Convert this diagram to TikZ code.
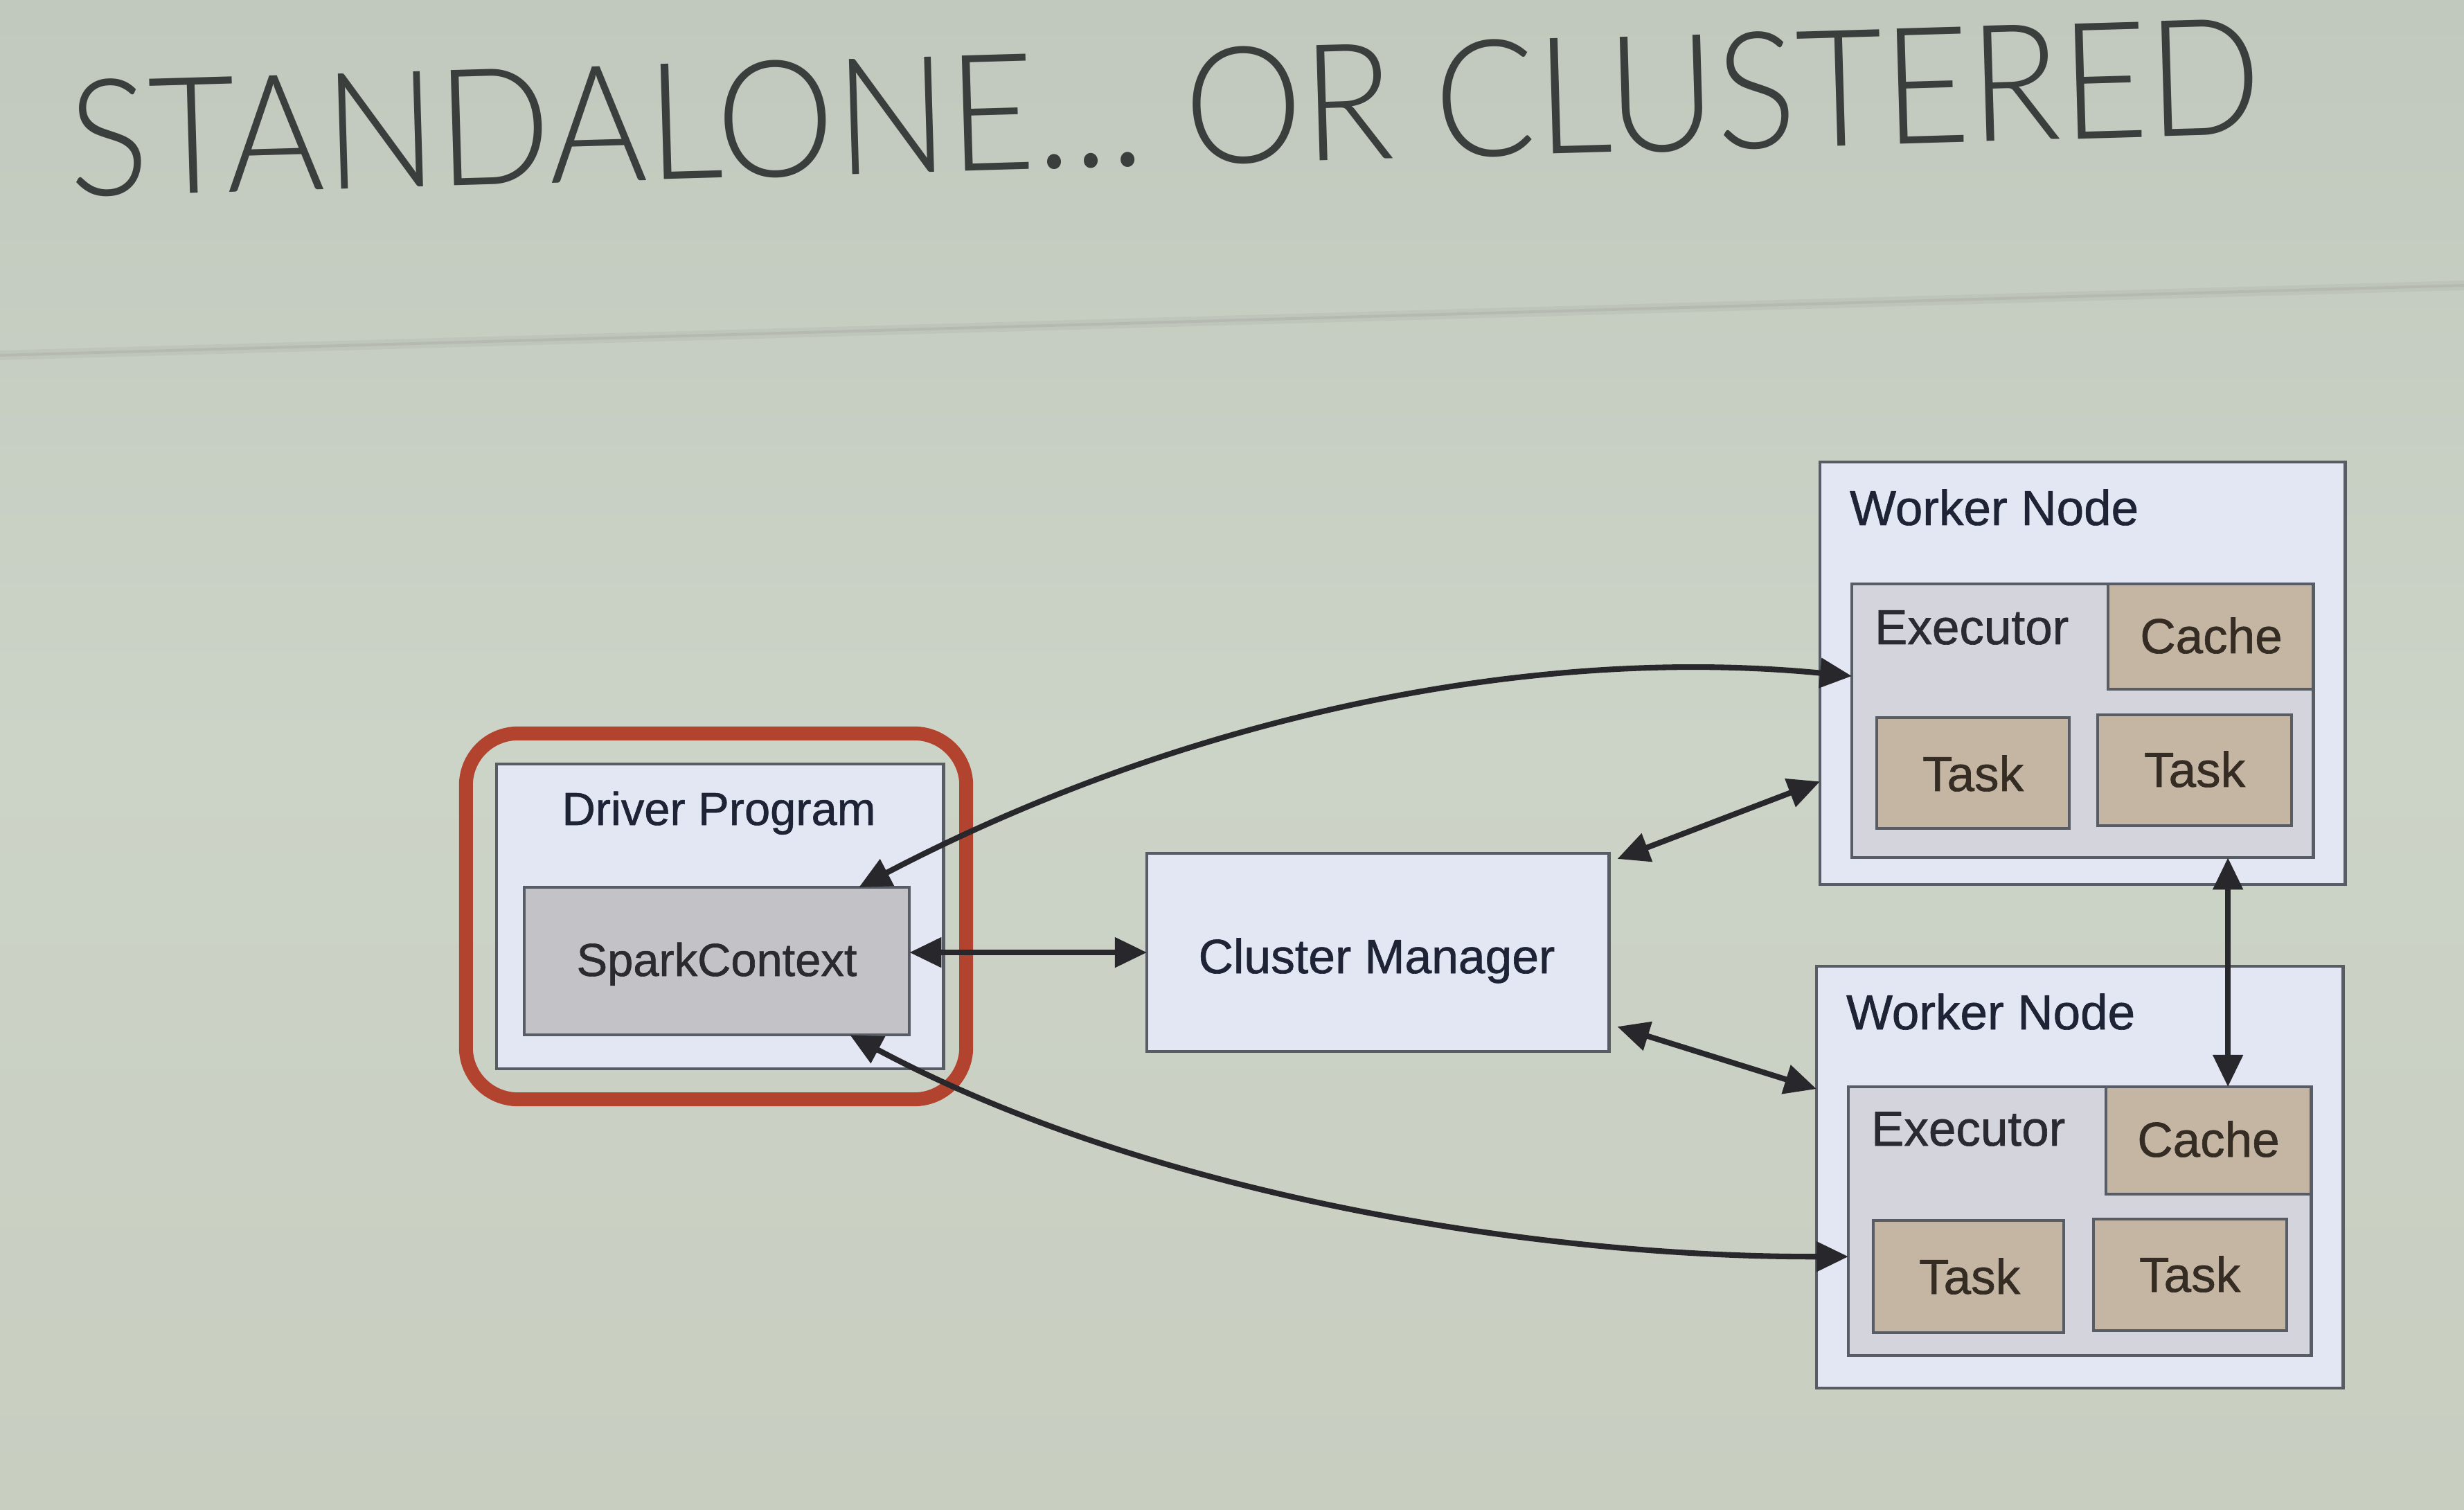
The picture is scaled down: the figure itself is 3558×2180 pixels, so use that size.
\documentclass[tikz,border=0pt]{standalone}
\usepackage{fontspec}
\setmainfont{Liberation Sans}[FakeBold=0.9]
\newfontfamily\titlefont{Lato Light}
\usetikzlibrary{arrows.meta}
\definecolor{bgtop}{HTML}{C1C8BD}
\definecolor{bgmid}{HTML}{CCD3C7}
\definecolor{bgbot}{HTML}{C8CFC1}
\definecolor{lav}{HTML}{E3E6F3}
\definecolor{exe}{HTML}{D3D4DC}
\definecolor{tanc}{HTML}{C5B6A4}
\definecolor{spk}{HTML}{C3C3C7}
\definecolor{bord}{HTML}{585C64}
\definecolor{navy}{HTML}{1E2336}
\definecolor{darktxt}{HTML}{2A2A30}
\definecolor{browntxt}{HTML}{352C24}
\definecolor{arrc}{HTML}{28282C}
\definecolor{redf}{HTML}{B2432E}
\definecolor{titlec}{HTML}{3A3E3C}
\tikzset{
  box/.style={draw=bord, line width=1.2pt, anchor=north west, inner sep=0pt, outer sep=0pt},
  lavbox/.style={box, fill=lav},
  exebox/.style={box, fill=exe},
  tanbox/.style={box, fill=tanc},
  spkbox/.style={box, fill=spk},
  lbl/.style={inner sep=0pt, outer sep=0pt},
  lsmall/.style={lbl, font=\fontsize{19pt}{23pt}\selectfont},
  lmid/.style={lbl, font=\fontsize{19.8pt}{24pt}\selectfont},
  lbig/.style={lbl, font=\fontsize{20.2pt}{24pt}\selectfont},
  arr/.style={draw=arrc, line width=2.3pt, {Triangle[length=0.46cm,width=0.42cm]}-{Triangle[length=0.46cm,width=0.42cm]}},
  redframe/.style={draw=redf, line width=0.2cm, rounded corners=0.75cm, inner sep=0pt, outer sep=0pt}
}
\begin{document}
\begin{tikzpicture}[x=0.01cm, y=-0.01cm]
\useasboundingbox (0,0) rectangle (3558,2180);
\shade[top color=bgtop, bottom color=bgbot, middle color=bgmid] (0,0) rectangle (3558,2180);
% faint rule under title
\draw[line width=0.14cm, black, opacity=0.035] (0,513) -- (3558,412);
\draw[line width=0.04cm, black, opacity=0.05] (0,513) -- (3558,412);
% title
\node[lbl, anchor=south west, rotate=1.65, text=titlec] (title) at (102,286)
  {\resizebox{31.65cm}{1.68cm}{\titlefont STANDALONE… OR CLUSTERED}};

% driver
\node[lavbox, minimum width=6.45cm, minimum height=4.40cm] (driver) at (717,1103) {};
\node[spkbox, minimum width=5.56cm, minimum height=2.13cm] (spark) at (757,1281) {};
\node[lsmall, anchor=base, text=navy] (tdriver) at (1038,1191) {Driver Program};
\node[lsmall, anchor=base, text=darktxt] (tspark) at (1035,1409) {SparkContext};
\node[redframe, minimum width=7.22cm, minimum height=5.28cm] (red) at (1034,1323) {};

% cluster manager
\node[lavbox, minimum width=6.67cm, minimum height=2.86cm] (cm) at (1656,1232) {};
\node[lmid, anchor=base, text=navy] (tcm) at (1988,1405) {Cluster Manager};

% worker 1
\node[lavbox, minimum width=7.58cm, minimum height=6.10cm] (w1) at (2628,667) {};
\node[exebox, minimum width=6.66cm, minimum height=3.95cm] (e1) at (2674,843) {};
\node[tanbox, minimum width=2.96cm, minimum height=1.52cm] (c1) at (3044,843) {};
\node[tanbox, minimum width=2.78cm, minimum height=1.60cm] (t11) at (2710,1036) {};
\node[tanbox, minimum width=2.80cm, minimum height=1.60cm] (t12) at (3029,1032) {};
\node[lbig, anchor=base west, text=navy] (tw1) at (2671,758) {Worker Node};
\node[lbig, anchor=base west, text=darktxt] (te1) at (2707,930) {Executor};
\node[lbig, anchor=base, text=browntxt] (tc1) at (3193,943) {Cache};
\node[lbig, anchor=base, text=browntxt] (tt11) at (2849,1142) {Task};
\node[lbig, anchor=base, text=browntxt] (tt12) at (3169,1136) {Task};

% worker 2
\node[lavbox, minimum width=7.60cm, minimum height=6.09cm] (w2) at (2623,1395) {};
\node[exebox, minimum width=6.68cm, minimum height=3.88cm] (e2) at (2669,1569) {};
\node[tanbox, minimum width=2.96cm, minimum height=1.55cm] (c2) at (3041,1569) {};
\node[tanbox, minimum width=2.75cm, minimum height=1.62cm] (t21) at (2705,1762) {};
\node[tanbox, minimum width=2.79cm, minimum height=1.61cm] (t22) at (3023,1760) {};
\node[lbig, anchor=base west, text=navy] (tw2) at (2666,1486) {Worker Node};
\node[lbig, anchor=base west, text=darktxt] (te2) at (2702,1654) {Executor};
\node[lbig, anchor=base, text=browntxt] (tc2) at (3189,1670) {Cache};
\node[lbig, anchor=base, text=browntxt] (tt21) at (2844,1868) {Task};
\node[lbig, anchor=base, text=browntxt] (tt22) at (3162,1865) {Task};

% connectors
\draw[arr] ([xshift=2.05cm]spark.north) .. controls (1700,1040) and (2200,930) .. ([yshift=0.645cm]e1.west);
\draw[arr] (spark.east |- cm.west) -- (cm.west);
\draw[arr] ([shift={(0.12cm,-0.08cm)}]cm.north east) -- ([yshift=-1.56cm]w1.west);
\draw[arr] ([shift={(0.12cm,0.36cm)}]cm.south east) -- ([yshift=1.275cm]w2.west);
\draw[arr] ([xshift=0.28cm]c2.north |- e1.south) -- ([xshift=0.28cm]c2.north);
\draw[arr] ([xshift=1.92cm]spark.south) .. controls (1650,1720) and (2200,1815) .. ([yshift=-0.51cm]e2.west);
\end{tikzpicture}
\end{document}
